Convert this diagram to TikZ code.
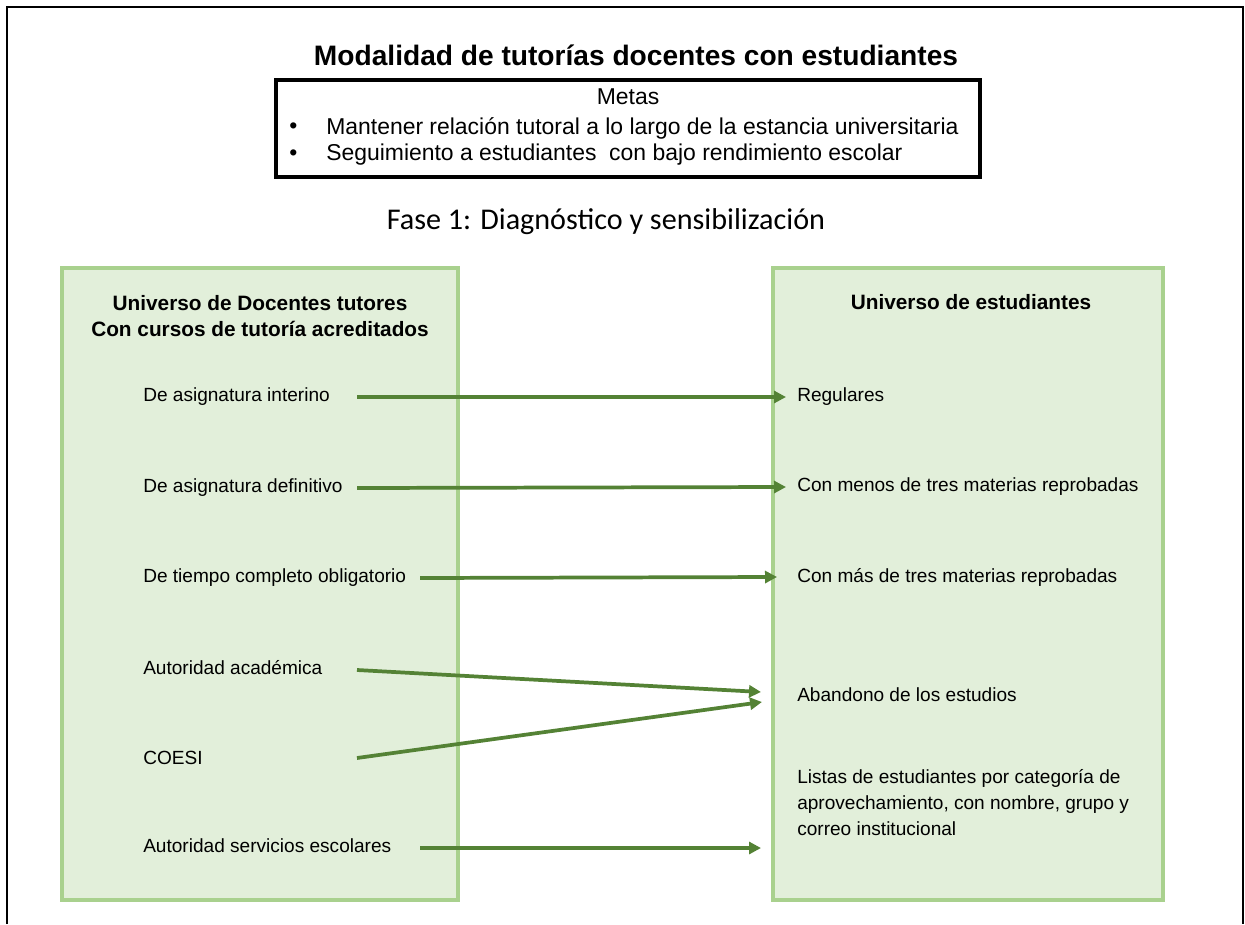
\documentclass[tikz,border=0pt]{standalone}
\usepackage{fontspec}
\setmainfont{Liberation Sans}
\newfontfamily\fasefont{Carlito}
\usetikzlibrary{calc,arrows.meta}
\definecolor{verdeclaro}{HTML}{E2EFDA}
\definecolor{verdeborde}{HTML}{A9D18E}
\definecolor{verdeflecha}{HTML}{548235}

\begin{document}
\begin{tikzpicture}[x=0.75pt,y=-0.75pt,
  caja/.style={draw=verdeborde,fill=verdeclaro,line width=2.6pt},
  item/.style={anchor=west,inner sep=0pt,font=\fontsize{14.3}{19.5}\selectfont,align=left},
  meta/.style={anchor=west,inner sep=0pt,font=\fontsize{17.2}{21}\selectfont},
  encabezado/.style={inner sep=0pt,font=\bfseries\fontsize{15.6}{20}\selectfont,align=center},
  flecha/.style={draw=verdeflecha,line width=2.8pt,-{Triangle[length=9pt,width=9pt]}}]
\useasboundingbox (0,0) rectangle (1245,924);
\draw[line width=1.2pt] (7,924) -- (7,7) -- (1243,7) -- (1243,924);

% titulo y metas
\node[inner sep=0pt,font=\bfseries\fontsize{21.1}{25}\selectfont] (titulo) at (636,55) {Modalidad de tutorías docentes con estudiantes};
\draw[line width=2.4pt] (276,80) rectangle (980,177);
\node[meta,anchor=center] (metas) at (628,97) {Metas};
\node[meta] (b1) at (289,128) {•};
\node[meta] (m1) at (326,128) {Mantener relación tutoral a lo largo de la estancia universitaria};
\node[meta] (b2) at (289,155) {•};
\node[meta] (m2) at (326,155) {Seguimiento a estudiantes\ \ con bajo rendimiento escolar};
\node[inner sep=0pt,font=\fasefont\fontsize{22.6}{26}\selectfont] (fase) at (606,222) {Fase 1: Diagnóstico y sensibilización};

% cajas
\draw[caja] (62,268) rectangle (458,900);
\draw[caja] (773,268) rectangle (1163,900);
\node[encabezado] (docentes) at (260,316) {Universo de Docentes tutores\\Con cursos de tutoría acreditados};
\node[encabezado] (estudiantes) at (971,302) {Universo de estudiantes};

% izquierda
\node[item] (d1) at (143,397) {De asignatura interino};
\node[item] (d2) at (143,488) {De asignatura definitivo};
\node[item] (d3) at (143,578) {De tiempo completo obligatorio};
\node[item] (d4) at (143,668) {Autoridad académica};
\node[item] (d5) at (143,758) {COESI};
\node[item] (d6) at (143,846) {Autoridad servicios escolares};

% derecha
\node[item] (r1) at (797,397) {Regulares};
\node[item] (r2) at (797,487) {Con menos de tres materias reprobadas};
\node[item] (r3) at (797,577) {Con más de tres materias reprobadas};
\node[item] (r4) at (797,695) {Abandono de los estudios};
\node[item] (r5) at (797,803) {Listas de estudiantes por categoría de\\aprovechamiento, con nombre, grupo y\\correo institucional};

\coordinate (sa) at (357,0);
\coordinate (sb) at (420,0);
\coordinate (lla) at (786,0);
\coordinate (llb) at (777,0);
\coordinate (llc) at (761,0);

\draw[flecha] (d1 -| sa) -- (r1 -| lla);
\draw[flecha] (d2 -| sa) -- (r2 -| lla);
\draw[flecha] (d3 -| sb) -- (r3 -| llb);
\draw[flecha] ($(d4 -| sa)+(0,2)$) -- ($(r4 -| llc)+(0,-3)$);
\draw[flecha] (d5 -| sa) -- ($(r4 -| llc)+(1,7)$);
\draw[flecha] ($(d6 -| sb)+(0,2)$) -- ($(d6 -| llc)+(0,2)$);
\end{tikzpicture}
\end{document}
